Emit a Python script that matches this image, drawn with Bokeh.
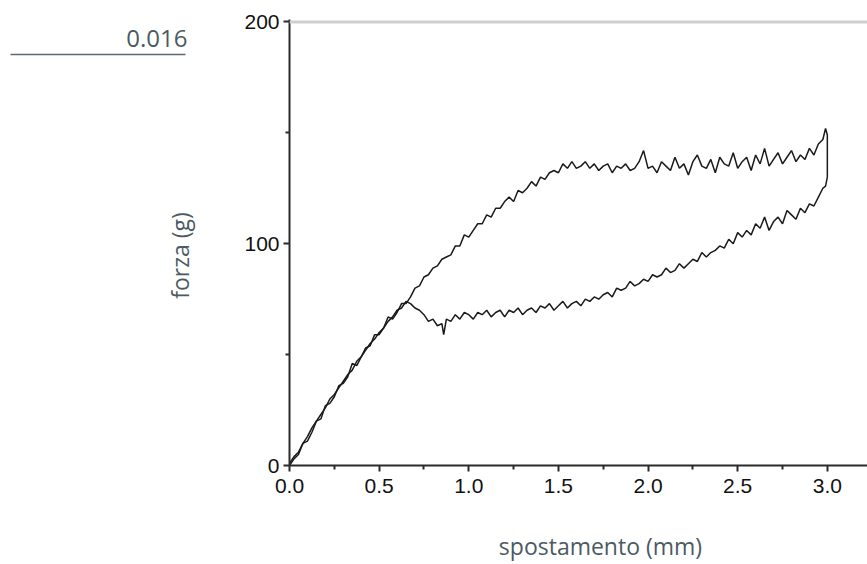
import math
from bokeh.plotting import figure
from bokeh.layouts import row, column
from bokeh.models import FixedTicker, PrintfTickFormatter, Span, Label, Arrow, Range1d
from bokeh.embed import file_html
from bokeh.resources import INLINE

# ---- data ----
load_x = [0.000, 0.025, 0.050, 0.075, 0.100, 0.125, 0.150, 0.175, 0.200, 0.225,
          0.250, 0.275, 0.300, 0.325, 0.350, 0.375, 0.400, 0.425, 0.450, 0.475,
          0.500, 0.525, 0.550, 0.575, 0.600, 0.625, 0.650, 0.675, 0.700, 0.725,
          0.750, 0.775, 0.800, 0.825, 0.850, 0.875, 0.900, 0.925, 0.950, 0.975,
          1.000, 1.025, 1.050, 1.075, 1.100, 1.125, 1.150, 1.175, 1.200, 1.225,
          1.250, 1.275, 1.300, 1.325, 1.350, 1.375, 1.400, 1.425, 1.450, 1.475,
          1.500, 1.525, 1.550, 1.575, 1.600, 1.625, 1.650, 1.675, 1.700, 1.725,
          1.750, 1.775, 1.800, 1.825, 1.850, 1.875, 1.900, 1.925, 1.950, 1.975,
          2.000, 2.025, 2.050, 2.075, 2.100, 2.125, 2.150, 2.175, 2.200, 2.225,
          2.250, 2.275, 2.300, 2.325, 2.350, 2.375, 2.400, 2.425, 2.450, 2.475,
          2.500, 2.525, 2.550, 2.575, 2.600, 2.625, 2.650, 2.675, 2.700, 2.725,
          2.750, 2.775, 2.800, 2.825, 2.850, 2.875, 2.900, 2.925, 2.950, 2.975,
          2.990, 3.000, 3.000]
load_y = [0, 3, 5, 10, 11, 15, 20, 21, 27, 28,
          31, 36, 37, 40, 46, 45, 49, 53, 54, 59,
          59, 62, 67, 66, 69, 73, 73, 76, 80, 81,
          85, 86, 89, 90, 93, 94, 95, 99, 99, 104,
          103, 106, 109, 109, 113, 112, 116, 116, 119, 121,
          119, 124, 123, 125, 128, 126, 130, 129, 132, 133,
          132, 136, 134, 137, 134, 135, 137, 134, 136, 133,
          135, 136, 132, 135, 134, 136, 133, 134, 137, 142,
          134, 135, 132, 137, 135, 133, 139, 134, 136, 131,
          137, 140, 135, 134, 138, 132, 139, 136, 135, 141,
          134, 137, 139, 133, 140, 136, 143, 135, 138, 141,
          136, 139, 142, 137, 140, 138, 143, 140, 145, 147,
          152, 149, 130]

unload_x = [3.000, 2.990, 2.975, 2.950, 2.925, 2.900, 2.875, 2.850, 2.825, 2.800,
            2.775, 2.750, 2.725, 2.700, 2.675, 2.650, 2.625, 2.600, 2.575, 2.550,
            2.525, 2.500, 2.475, 2.450, 2.425, 2.400, 2.375, 2.350, 2.325, 2.300,
            2.275, 2.250, 2.225, 2.200, 2.175, 2.150, 2.125, 2.100, 2.075, 2.050,
            2.025, 2.000, 1.975, 1.950, 1.925, 1.900, 1.875, 1.850, 1.825, 1.800,
            1.775, 1.750, 1.725, 1.700, 1.675, 1.650, 1.625, 1.600, 1.575, 1.550,
            1.525, 1.500, 1.475, 1.450, 1.425, 1.400, 1.375, 1.350, 1.325, 1.300,
            1.275, 1.250, 1.225, 1.200, 1.175, 1.150, 1.125, 1.100, 1.075, 1.050,
            1.025, 1.000, 0.975, 0.950, 0.925, 0.900, 0.875, 0.860, 0.850, 0.825,
            0.800, 0.775, 0.750, 0.725, 0.700, 0.675, 0.650, 0.625, 0.600, 0.575,
            0.550, 0.525, 0.500, 0.475, 0.450, 0.425, 0.400, 0.375, 0.350, 0.325,
            0.300, 0.275, 0.250, 0.225, 0.200, 0.175, 0.150, 0.125, 0.100, 0.075,
            0.050, 0.025, 0.000]
unload_y = [130, 126, 125, 121, 117, 118, 114, 116, 111, 113,
            115, 109, 112, 110, 106, 112, 107, 109, 104, 106,
            103, 105, 100, 102, 98, 99, 97, 96, 94, 96,
            92, 93, 91, 89, 91, 88, 87, 89, 86, 85,
            86, 83, 84, 82, 81, 83, 80, 79, 80, 76,
            78, 77, 75, 76, 74, 75, 72, 74, 73, 71,
            74, 72, 70, 73, 71, 72, 69, 71, 70, 68,
            71, 69, 70, 67, 70, 69, 67, 70, 68, 69,
            66, 68, 69, 66, 68, 65, 66, 59, 64, 63,
            66, 65, 68, 70, 71, 73, 74, 71, 70, 67,
            65, 62, 60, 57, 55, 52, 49, 47, 43, 41,
            38, 35, 32, 30, 26, 23, 20, 17, 13, 10,
            6, 4, 1]

x_ticks = [0.0, 0.5, 1.0, 1.5, 2.0, 2.5, 3.0]
x_minor = [0.25, 0.75, 1.25, 1.75, 2.25, 2.75]
y_ticks = [0, 100, 200]
y_minor = [50, 150]

side_value = "0.016"
x_title = "spostamento (mm)"
y_title = "forza (g)"

grey = "#4b5a63"
TOP_H = 510
LEFT_W = 230
FRAME_TOP = 19
FRAME_BOTTOM = 465


def blank(w, h, y0, y1):
    f = figure(width=w, height=h, x_range=Range1d(0, w), y_range=Range1d(y1, y0),
               output_backend="svg", toolbar_location=None,
               x_axis_location=None, y_axis_location=None,
               min_border=0)
    f.outline_line_color = None
    f.grid.visible = False
    f.background_fill_color = "white"
    f.border_fill_color = "white"
    return f


# ---- left panel: side value + y title (its frame aligns with the main frame) ----
left = blank(LEFT_W, TOP_H, FRAME_TOP, FRAME_BOTTOM)
left.add_layout(Label(x=187, y=38, text=side_value, text_align="right",
                      text_baseline="alphabetic", text_font="Open Sans",
                      text_font_size="24px", text_color=grey))
left.add_layout(Arrow(end=None, x_start=10, y_start=54, x_end=185, y_end=54,
                      line_color="#5d6a72", line_width=1.5))
left.add_layout(Label(x=179, y=255, text=y_title, angle=math.pi / 2,
                      text_align="center", text_baseline="alphabetic",
                      text_font="Open Sans", text_font_size="23px", text_color=grey))

# ---- main chart ----
p = figure(width=867 - LEFT_W, height=TOP_H, x_range=(0, 3.224), y_range=(0, 201.1),
           output_backend="svg", toolbar_location=None,
           min_border_left=289 - LEFT_W, min_border_top=FRAME_TOP,
           min_border_bottom=TOP_H - FRAME_BOTTOM, min_border_right=0)
p.background_fill_color = "white"
p.border_fill_color = "white"
p.outline_line_color = None
p.grid.visible = False

line_col = "#1a1a1a"
p.line(load_x, load_y, line_color=line_col, line_width=1.5)
p.line(unload_x, unload_y, line_color=line_col, line_width=1.5)

for ax in (p.xaxis[0], p.yaxis[0]):
    ax.axis_line_color = "#2a2a2a"
    ax.axis_line_width = 2
    ax.major_tick_line_color = "#2a2a2a"
    ax.major_tick_line_width = 2
    ax.minor_tick_line_color = "#2a2a2a"
    ax.minor_tick_line_width = 2
    ax.major_tick_in = 0
    ax.major_tick_out = 6
    ax.minor_tick_in = 0
    ax.minor_tick_out = 4
    ax.major_label_text_font = "Liberation Sans"
    ax.major_label_text_font_size = "21px"
    ax.major_label_text_color = "#111111"
    ax.major_label_standoff = 4
p.xaxis.major_label_standoff = 7

p.xaxis.ticker = FixedTicker(ticks=x_ticks, minor_ticks=x_minor)
p.yaxis.ticker = FixedTicker(ticks=y_ticks, minor_ticks=y_minor)
p.xaxis.formatter = PrintfTickFormatter(format="%.1f")
p.yaxis.formatter = PrintfTickFormatter(format="%d")

# gray top rule at y = 200
p.add_layout(Span(location=200, dimension="width", line_color="#cfcfcf", line_width=3))

# ---- bottom panel: x title ----
BOT_H = 564 - TOP_H
bottom = blank(867, BOT_H, 0, BOT_H)
bottom.add_layout(Label(x=600, y=545 - TOP_H, text=x_title, text_align="center",
                        text_baseline="alphabetic", text_font="Open Sans",
                        text_font_size="23px", text_color=grey))

layout = column(row(left, p, spacing=0), bottom, spacing=0)

open("out.html", "w").write(file_html(layout, INLINE))
